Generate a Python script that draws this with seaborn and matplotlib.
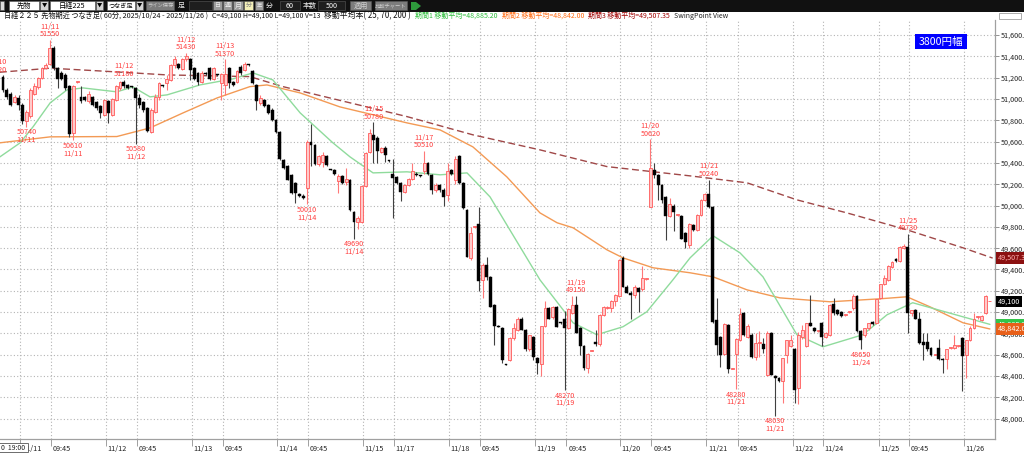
import numpy as np
import pandas as pd
import matplotlib
matplotlib.use("Agg")
import matplotlib.pyplot as plt
import matplotlib.transforms as mtrans
from matplotlib.patches import Rectangle, Polygon
from matplotlib.ticker import FuncFormatter, FixedLocator
import seaborn as sns

# ---------------- data (60-minute candles) ----------------
opens = [
    51210, 51085, 51050, 50970, 51010, 50940, 50790, 50840, 51050, 51110,
    51200, 51290, 51330, 51480, 51290, 51240, 51220, 51120, 50680, 51160,
    51020, 51020, 50980, 51020, 50970, 50930, 50850, 50980, 50850, 50990,
    51100, 51160, 51130, 51120, 51100, 51010, 50970, 50910, 50690, 50880,
    51020, 51125, 51150, 51180, 51320, 51330, 51280, 51370, 51370, 51290,
    51240, 51160, 51240, 51290, 51190, 51230, 51150, 51130, 51290, 51160,
    51160, 51300, 51270, 51320, 51260, 51130, 50960, 50990, 50940, 50900,
    50800, 50690, 50430, 50370, 50290, 50210, 50110, 50090, 50160, 50600,
    50570, 50390, 50410, 50460, 50340, 50330, 50230, 50280, 50220, 50240,
    49940, 49850, 49850, 50180, 50500, 50660, 50630, 50500, 50540, 50420,
    50300, 50270, 50210, 50130, 50190, 50250, 50300, 50280, 50320, 50400,
    50290, 50150, 50190, 50150, 50100, 50330, 50240, 50460, 50210, 49960,
    49510, 49800, 49830, 49300, 49440, 49330, 49070, 48870, 48850, 48510,
    48550, 48760, 48830, 48940, 48830, 48650, 48770, 48570, 48510, 48870,
    49040, 48950, 49050, 48900, 48940, 48850, 48990, 49070, 48850, 48680,
    48480, 48640, 48720, 48700, 48970, 49040, 49040, 49100, 49150, 49510,
    49240, 49180, 49160, 49230, 49220, 49310, 49990, 50330, 50290, 50190,
    50080, 49900, 50000, 49910, 49900, 49740, 49630, 49820, 49770, 49910,
    50050, 50110, 49990, 48930, 48770, 48610, 48880, 48470, 48610, 48740,
    48990, 48770, 48790, 48580, 48710, 48700, 48410, 48800, 48400, 48380,
    48350, 48600, 48680, 48650, 48290, 48770, 48680, 48900, 48850, 48820,
    48900, 48770, 48790, 49080, 49020, 49000, 48970, 49000, 49040, 49150,
    48820, 48790, 48850, 48910, 48900, 49130, 49260, 49300, 49420, 49500,
    49480, 49600, 49610, 48990, 49020, 48940, 48720, 48720, 48660, 48600,
    48660, 48560, 48560, 48660, 48660, 48680, 48760, 48600, 48740, 48850,
    48950, 48930, 48990, 49100]
highs = [
    51225, 51100, 51060, 51040, 51040, 50960, 50900, 51100, 51150, 51210,
    51300, 51340, 51550, 51500, 51300, 51260, 51240, 51130, 51130, 51170,
    51120, 51030, 51070, 51030, 50980, 50940, 51000, 50990, 51010, 51130,
    51170, 51180, 51140, 51125, 51110, 51050, 50980, 50920, 50910, 51050,
    51160, 51130, 51220, 51330, 51400, 51340, 51380, 51430, 51380, 51300,
    51250, 51260, 51250, 51300, 51300, 51235, 51240, 51370, 51300, 51170,
    51270, 51320, 51350, 51325, 51270, 51140, 51040, 51000, 50950, 50910,
    50810, 50700, 50440, 50380, 50300, 50220, 50120, 50110, 50610, 50760,
    50580, 50470, 50500, 50470, 50345, 50340, 50300, 50290, 50350, 50250,
    49950, 49900, 50190, 50500, 50720, 50780, 50650, 50550, 50560, 50425,
    50440, 50280, 50220, 50200, 50260, 50400, 50310, 50285, 50510, 50410,
    50300, 50210, 50200, 50160, 50400, 50340, 50460, 50470, 50220, 49970,
    49800, 49810, 49990, 49460, 49520, 49340, 49080, 48880, 48860, 48515,
    48770, 48900, 48950, 48950, 48840, 48790, 48780, 48580, 48870, 49100,
    49050, 49060, 49060, 48905, 49010, 49040, 49150, 49150, 48860, 48690,
    48620, 48645, 48830, 48980, 49060, 49060, 49110, 49170, 49500, 49530,
    49250, 49200, 49250, 49240, 49430, 49315, 50620, 50400, 50300, 50200,
    50090, 50070, 50010, 49915, 49910, 49750, 49840, 49830, 49920, 50060,
    50120, 50240, 50000, 49130, 48780, 48900, 48890, 48475, 48760, 49040,
    49000, 48890, 48800, 48800, 48820, 48760, 48820, 48810, 48410, 48390,
    48570, 48740, 48790, 48660, 48810, 48880, 48900, 49160, 48860, 48825,
    48910, 48810, 49080, 49130, 49030, 49010, 48980, 49005, 49170, 49160,
    48830, 48850, 48900, 48920, 49120, 49260, 49350, 49440, 49480, 49510,
    49620, 49640, 49730, 49020, 49030, 49000, 48800, 48800, 48670, 48605,
    48750, 48570, 48650, 48665, 48790, 48685, 48770, 48740, 48870, 48990,
    48960, 48970, 49160, 49100]
lows = [
    51060, 51000, 50930, 50960, 50900, 50760, 50740, 50820, 51040, 51090,
    51190, 51280, 51320, 51270, 51100, 51180, 51080, 50640, 50610, 51150,
    50960, 50980, 50960, 50930, 50900, 50820, 50840, 50770, 50840, 50980,
    51080, 51100, 51090, 51105, 50580, 50910, 50880, 50690, 50680, 50870,
    50990, 51115, 51080, 51170, 51290, 51280, 51270, 51360, 51180, 51180,
    51130, 51150, 51220, 51180, 51180, 51215, 50990, 51040, 51100, 51120,
    51150, 51220, 51260, 51310, 51140, 50900, 50940, 50920, 50860, 50790,
    50680, 50430, 50340, 50240, 50110, 50020, 50080, 50060, 50010, 50370,
    50380, 50370, 50360, 50370, 50330, 50290, 50120, 50200, 50190, 49950,
    49690, 49780, 49840, 50170, 50490, 50400, 50400, 50490, 50410, 50410,
    49880, 50200, 50040, 50120, 50180, 50240, 50280, 50270, 50300, 50290,
    50110, 50130, 50130, 50000, 50040, 50290, 50200, 50200, 49970, 49520,
    49490, 49790, 49200, 49130, 49300, 49050, 48690, 48860, 48520, 48500,
    48540, 48740, 48820, 48830, 48640, 48640, 48550, 48420, 48400, 48860,
    48940, 48940, 48860, 48890, 48270, 48840, 48980, 48800, 48600, 48460,
    48430, 48635, 48680, 48680, 48960, 49030, 49000, 49060, 49140, 49240,
    49180, 48940, 49130, 49000, 49200, 49305, 49985, 50260, 50050, 50020,
    49680, 49890, 49760, 49905, 49690, 49600, 49600, 49760, 49760, 49900,
    50040, 49980, 48900, 48600, 48490, 48600, 48430, 48465, 48280, 48730,
    48780, 48760, 48570, 48550, 48580, 48620, 48400, 48410, 48030, 48340,
    48150, 48520, 48670, 48150, 48140, 48750, 48670, 48880, 48810, 48815,
    48680, 48760, 48780, 48970, 48970, 48950, 48960, 48995, 49020, 48810,
    48650, 48770, 48830, 48880, 48890, 49120, 49250, 49290, 49410, 49470,
    49470, 49590, 48800, 48960, 48940, 48700, 48550, 48640, 48590, 48595,
    48550, 48430, 48470, 48655, 48650, 48675, 48260, 48380, 48730, 48840,
    48940, 48920, 48980, 49100]
closes = [
    51085, 51020, 50940, 51020, 50940, 50790, 50880, 51080, 51120, 51200,
    51290, 51320, 51480, 51290, 51190, 51190, 51100, 50670, 51120, 51165,
    50980, 50990, 51050, 50940, 50910, 50870, 50990, 50870, 51000, 51120,
    51160, 51120, 51100, 51110, 51010, 50940, 50900, 50700, 50900, 51020,
    51150, 51120, 51190, 51320, 51370, 51290, 51370, 51400, 51270, 51190,
    51160, 51240, 51230, 51190, 51290, 51220, 51230, 51230, 51150, 51130,
    51260, 51240, 51330, 51315, 51150, 50980, 51010, 50930, 50870, 50800,
    50690, 50440, 50350, 50240, 50120, 50120, 50090, 50070, 50600, 50570,
    50390, 50460, 50470, 50380, 50335, 50300, 50280, 50210, 50250, 49960,
    49850, 49880, 50180, 50490, 50680, 50610, 50510, 50540, 50470, 50415,
    50260, 50210, 50130, 50190, 50250, 50320, 50290, 50275, 50400, 50300,
    50150, 50190, 50150, 50080, 50320, 50300, 50440, 50210, 49980, 49520,
    49740, 49800, 49290, 49440, 49330, 49050, 48870, 48865, 48550, 48505,
    48760, 48850, 48940, 48830, 48650, 48790, 48580, 48520, 48870, 49040,
    48940, 49050, 48860, 48895, 48850, 49030, 49070, 48800, 48680, 48480,
    48610, 48640, 48700, 48970, 49050, 49050, 49100, 49160, 49490, 49240,
    49180, 49160, 49240, 49190, 49320, 49310, 50350, 50290, 50190, 50050,
    49900, 50010, 49940, 49910, 49690, 49660, 49830, 49770, 49910, 50050,
    50110, 49990, 48910, 48690, 48600, 48890, 48470, 48470, 48750, 48980,
    48790, 48870, 48580, 48710, 48715, 48650, 48800, 48410, 48380, 48350,
    48570, 48740, 48740, 48270, 48790, 48830, 48900, 48870, 48820, 48820,
    48770, 48800, 49070, 48990, 48980, 48960, 48975, 49000, 49150, 48820,
    48740, 48850, 48900, 48890, 49120, 49260, 49320, 49430, 49470, 49480,
    49610, 49620, 48990, 49020, 48940, 48710, 48690, 48650, 48600, 48600,
    48560, 48550, 48650, 48660, 48690, 48680, 48590, 48740, 48850, 48940,
    48950, 48960, 49150, 49100]

# moving averages (bar position, price)
ma25_pos = [-0.8, 4.4, 7.7, 12.1, 16.4, 20.5, 29.2, 33.3, 37.7, 42.1, 50.5, 59.0, 64.1,
            69.2, 76.2, 84.6, 89.0, 94.9, 103.6, 112.1, 119.0, 124.9, 129.2, 137.7,
            146.2, 152.3, 159.0, 165.1, 171.8, 176.2, 182.1, 189.0, 194.9, 203.6,
            210.3, 220.5, 226.7, 233.3, 246.2, 253.1]
ma25_val = [50456, 50588, 50738, 50963, 51084, 51103, 51066, 51113, 51019, 51038, 51131,
            51188, 51244, 51178, 50869, 50588, 50456, 50306, 50316, 50288, 50306, 50081,
            49819, 49303, 48900, 48788, 48863, 49003, 49303, 49509, 49716, 49556, 49331,
            48788, 48675, 48788, 48975, 49088, 48956, 48885]
ma70_pos = [-0.8, 12.1, 29.2, 37.7, 46.2, 54.9, 63.3, 67.7, 76.2, 86.4, 103.6, 112.1,
            120.5, 129.2, 137.7, 142.1, 146.2, 154.9, 159.0, 166.7, 176.2, 182.1,
            190.8, 199.2, 212.1, 224.9, 231.8, 237.7, 246.2, 253.1]
ma70_val = [50588, 50644, 50647, 50728, 50869, 51009, 51115, 51131, 51056, 50925, 50775,
            50709, 50550, 50269, 49931, 49838, 49791, 49584, 49509, 49416, 49369, 49331,
            49209, 49134, 49097, 49125, 49144, 49050, 48900, 48842]
ma200_pos = [-0.8, 12.1, 24.9, 42.0, 63.3, 71.8, 89.0, 103.6, 120.5, 137.7, 154.9,
             176.2, 190.8, 203.6, 216.4, 231.8, 246.2, 253.8]
ma200_val = [51250, 51288, 51262, 51225, 51209, 51115, 50963, 50834, 50663, 50522, 50365,
             50278, 50213, 50053, 49931, 49772, 49603, 49507]

# x-axis ticks (bar positions) and labels
tick_pos = [4.4, 12.3, 26.3, 34.3, 48.4, 56.3, 70.3, 78.3, 92.2, 100.3, 114.4, 122.3,
            136.4, 144.5, 158.2, 166.3, 180.4, 188.4, 202.5, 210.3, 224.6, 232.4, 246.4]
tick_lbl = ['11/11', '09:45', '11/12', '09:45', '11/13', '09:45', '11/14', '09:45',
            '11/15', '11/17', '11/18', '09:45', '11/19', '09:45', '11/20', '09:45',
            '11/21', '09:45', '11/22', '11/24', '11/25', '09:45', '11/26']

# swing points
swing_pos = [-1.5, 12, 6, 18, 31, 34, 47, 57, 78, 90, 95, 108, 144, 147, 166, 181,
             188, 198, 220, 232]
swing_date = ['11/10', '11/11', '11/11', '11/11', '11/12', '11/12', '11/12', '11/13',
              '11/14', '11/14', '11/15', '11/17', '11/19', '11/19', '11/20', '11/21',
              '11/21', '11/21', '11/24', '11/25']
swing_val = [51220, 51550, 50740, 50610, 51180, 50580, 51430, 51370, 50010, 49690,
             50780, 50510, 48270, 49150, 50620, 50240, 48280, 48030, 48650, 49730]
swing_kind = ['H', 'H', 'L', 'L', 'H', 'L', 'H', 'H', 'L', 'L', 'H', 'H', 'L', 'H',
              'H', 'H', 'L', 'L', 'L', 'H']

# right-hand value boxes
box_val = [49507.35, 49100.0, 48885.20, 48842.00]
box_txt = ['49,507.35', '49,100', '48,885.20', '48,842.00']
box_fc = ['#8b1010', '#000000', '#33c44a', '#e8601a']
box_tc = ['#ffb0b0', '#ffffff', '#ffffff', '#ffffff']

y_ticks = list(range(48000, 51601, 200))

# ---------------- figure ----------------
sns.set_theme(style="white")
FAM = ['Noto Sans CJK JP', 'DejaVu Sans']
plt.rcParams['font.family'] = FAM
plt.rcParams['axes.unicode_minus'] = False

W, H = 1024, 455
fig = plt.figure(figsize=(W / 100, H / 100), dpi=100)
fig.patch.set_facecolor('white')
ax = fig.add_axes([0, 1 - 439 / H, 995 / W, 419 / H])
ax.set_facecolor('white')

n = min(len(opens), len(highs), len(lows), len(closes))
df = pd.DataFrame({'open': opens[:n], 'high': highs[:n], 'low': lows[:n], 'close': closes[:n]})
df['pos'] = np.arange(n)
df['high'] = df[['high', 'open', 'close']].max(axis=1)
df['low'] = df[['low', 'open', 'close']].min(axis=1)
up = df['close'] >= df['open']
blo = df[['open', 'close']].min(axis=1)
bh = (df['close'] - df['open']).abs().clip(lower=9)

# moving averages (seaborn)
for pos, val, col, dash in [(ma200_pos, ma200_val, '#a04848', True),
                            (ma70_pos, ma70_val, '#f39a55', False),
                            (ma25_pos, ma25_val, '#8fdb9c', False)]:
    mdf = pd.DataFrame({'pos': pos, 'price': val})
    sns.lineplot(data=mdf, x='pos', y='price', ax=ax, color=col, linewidth=1.0,
                 sort=False, estimator=None, zorder=2)
    if dash:
        ax.lines[-1].set_dashes([5, 2.6])

# candles
ax.vlines(df.pos[up], df.low[up], df.high[up], color='#ff7878', lw=0.8, zorder=3)
ax.vlines(df.pos[~up], df.low[~up], df.high[~up], color='#404040', lw=0.8, zorder=3)
ax.bar(df.pos[up], bh[up], bottom=blo[up], width=0.74, color='#ffcaca',
       edgecolor='#ff5a5a', linewidth=0.6, zorder=4)
ax.bar(df.pos[~up], bh[~up], bottom=blo[~up], width=0.74, color='#000000',
       edgecolor='#000000', linewidth=0.3, zorder=4)

ax.set_xlim(-0.77, 254.4)
ax.set_ylim(47810, 51740)
ax.set_xlabel('')
ax.set_ylabel('')

# grid & axes
ax.xaxis.set_major_locator(FixedLocator(tick_pos))
ax.yaxis.set_major_locator(FixedLocator(y_ticks))
ax.grid(True, color='#b4b4b4', linestyle=(0, (1, 2)), linewidth=0.8, zorder=0)
ax.set_axisbelow(True)
for s in ['top', 'left']:
    ax.spines[s].set_visible(False)
for s in ['bottom', 'right']:
    ax.spines[s].set_color('#a0a0a0')
    ax.spines[s].set_linewidth(0.9)
ax.yaxis.tick_right()
ax.yaxis.set_major_formatter(FuncFormatter(lambda v, p: f"{v:,.1f}"))
ax.tick_params(axis='y', which='both', right=True, left=False, length=3, width=0.6,
               color='#808080', pad=1.2, labelsize=5.2, labelcolor='#222222')
ax.tick_params(axis='x', which='both', bottom=True, length=5, width=0.6,
               color='#909090', labelbottom=False)

xlab_tr = mtrans.blended_transform_factory(ax.transData, ax.transAxes)
for t, lbl in zip(tick_pos, tick_lbl):
    ax.annotate(lbl, xy=(t, 0), xycoords=xlab_tr, xytext=(1.2, -4.0),
                textcoords='offset points', ha='left', va='top', fontsize=5.2,
                color='#222222', annotation_clip=False)

# swing point labels
for p, d, v, k in zip(swing_pos, swing_date, swing_val, swing_kind):
    if k == 'H':
        ax.annotate(f"{d}\n{v}", xy=(p, v), xytext=(0, 1.3), textcoords='offset points',
                    ha='center', va='bottom', fontsize=5.2, color='#ff3c3c',
                    linespacing=0.95, annotation_clip=False, zorder=6)
    else:
        ax.annotate(f"{v}\n{d}", xy=(p, v), xytext=(0, -1.3), textcoords='offset points',
                    ha='center', va='top', fontsize=5.2, color='#ff3c3c',
                    linespacing=0.95, annotation_clip=False, zorder=6)

# right value boxes
ytr = mtrans.blended_transform_factory(ax.transAxes, ax.transData)
for v, t, fc, tc in zip(box_val, box_txt, box_fc, box_tc):
    ax.text(1.003, v, t, transform=ytr, ha='left', va='center', fontsize=5.2, color=tc,
            bbox=dict(boxstyle='square,pad=0.25', fc=fc, ec='none'), clip_on=False, zorder=8)

# ---------------- decorations (toolbar, title row, overlays) ----------------
deco = fig.add_axes([0, 0, 1, 1], zorder=10)
deco.set_xlim(0, W)
deco.set_ylim(H, 0)
deco.axis('off')
deco.patch.set_alpha(0)
renderer = fig.canvas.get_renderer()


def fit_text(x0, x1, y, s, color, size=5.6, ha='left', lo=3.8, hi=6.2, **kw):
    t = deco.text(x0 if ha == 'left' else (x0 + x1) / 2, y, s, fontsize=size, color=color,
                  ha=ha, va='center', **kw)
    w = t.get_window_extent(renderer).width
    if w > 0:
        t.set_fontsize(max(lo, min(hi, size * (x1 - x0) / w)))
    return t


deco.add_patch(Rectangle((0, 0), W, 11.5, fc='#111111', ec='none'))
tool_boxes = [
    (0, 3.5, '#dcdcdc', '', '#000'),
    (9, 39, '#ffffff', '先物', '#000'),
    (40, 48, '#d4d4d4', '▼', '#000'),
    (50, 95, '#ffffff', '日経225', '#000'),
    (96, 103, '#d4d4d4', '▼', '#000'),
    (107, 135, '#ffffff', 'つなぎ足', '#000'),
    (136, 143, '#d4d4d4', '▼', '#000'),
    (146, 174, '#7c7c7c', 'ライン保存', '#cfcfcf'),
    (189, 212, '#1e1e1e', '', '#fff'),
    (213, 222, '#9c9c9c', '日', '#ececec'),
    (223, 232, '#9c9c9c', '週', '#ececec'),
    (233, 243, '#9c9c9c', '月', '#ececec'),
    (244, 253, '#f4f0b8', '分', '#808080'),
    (255, 263, '#9c9c9c', '年', '#ececec'),
    (280, 300, '#1e1e1e', '60', '#ffffff'),
    (318, 345, '#1e1e1e', '500', '#ffffff'),
    (350, 371, '#7c7c7c', '適用', '#cfcfcf'),
    (375, 407, '#7c7c7c', '比較チャート', '#cfcfcf'),
]
for x0, x1, fc, s, tc in tool_boxes:
    deco.add_patch(Rectangle((x0, 1.3), x1 - x0, 8.8, fc=fc, ec='#5a5a5a', lw=0.4))
    if s:
        fit_text(x0 + 1.5, x1 - 1.5, 5.8, s, tc, size=5.0, ha='center', hi=5.2)
for x, s in [(178, '足'), (266, '分'), (303, '本数')]:
    deco.text(x, 5.8, s, fontsize=5.0, color='#eeeeee', ha='left', va='center')
deco.add_patch(Polygon([(411, 2), (416, 2), (421, 6), (416, 10), (411, 10)],
                       closed=True, fc='#2e9a3c', ec='none'))

title_parts = [
    (2, 207, '日経２２５ 先物期近 つなぎ足( 60分, 2025/10/24 - 2025/11/26 )', '#111111'),
    (212, 305, 'C=49,100 H=49,100 L=49,100 V=13', '#111111'),
    (323, 410, '移動平均本( 25, 70, 200 )', '#111111'),
    (413, 491, '期間1 移動平均=48,885.20', '#2ebf3c'),
    (497, 579, '期間2 移動平均=48,842.00', '#ff6a10'),
    (582, 662, '期間3 移動平均=49,507.35', '#a00000'),
    (670, 720, 'SwingPoint View', '#222222'),
]
prev_end = 0
for x0, x1, s, c in title_parts:
    start = max(x0, prev_end + 4)
    t = fit_text(start, start + (x1 - x0), 15.8, s, c, size=5.6, lo=5.0, hi=5.8)
    prev_end = t.get_window_extent(renderer).x1

deco.add_patch(Rectangle((999, 12.5), 22, 6, fc='white', ec='#8a8a8a', lw=0.5))

# "3800円幅" badge
deco.add_patch(Rectangle((915, 34), 52, 15, fc='#0000ff', ec='none'))
deco.text(941, 41.7, '3800円幅', fontsize=7.6, color='white', ha='center', va='center')

# cursor time box at bottom-left
deco.add_patch(Rectangle((-1, 443), 28.5, 9, fc='white', ec='#555555', lw=0.6))
deco.text(1, 447.6, '0  19:00', fontsize=5.0, color='#222222', ha='left', va='center')

fig.savefig('out.png', dpi=100, facecolor='white')
